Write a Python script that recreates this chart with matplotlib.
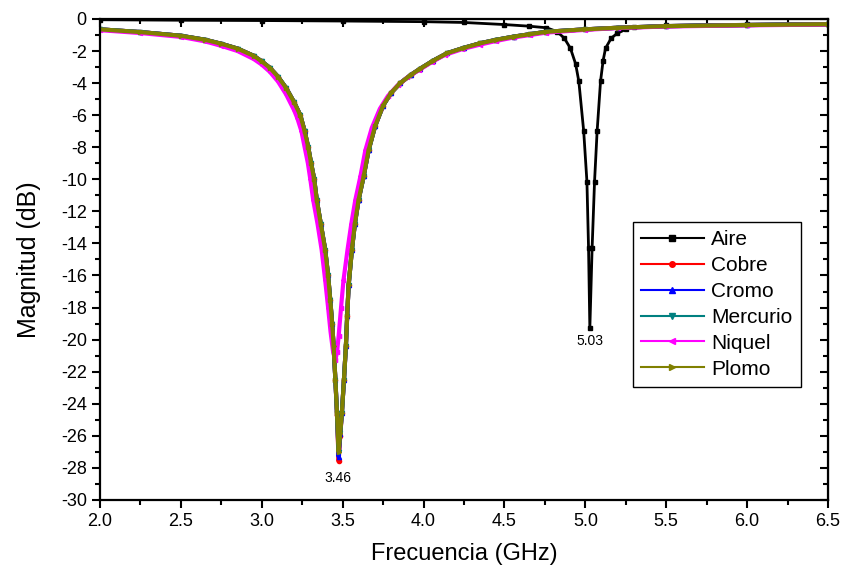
import matplotlib
matplotlib.use("Agg")
import matplotlib.pyplot as plt
from matplotlib.ticker import MultipleLocator

plt.rcParams['font.family'] = ['Liberation Sans', 'DejaVu Sans']
plt.rcParams['axes.unicode_minus'] = False

# Aire (empty cavity)
freq_aire = [2.0, 2.5, 3.0, 3.5, 4.0, 4.25, 4.5, 4.65, 4.76, 4.826, 4.87, 4.908,
             4.94, 4.96, 4.99, 5.01, 5.02, 5.028, 5.042, 5.057, 5.073, 5.094,
             5.11, 5.125, 5.16, 5.197, 5.25, 5.30, 5.5, 6.0, 6.5]
mag_aire = [-0.05, -0.08, -0.1, -0.13, -0.17, -0.22, -0.35, -0.45, -0.55, -0.79,
            -1.2, -1.83, -2.8, -3.9, -7.0, -10.15, -14.3, -19.3, -14.3, -10.15,
            -7.0, -3.9, -2.6, -1.83, -1.2, -0.9, -0.65, -0.5, -0.4, -0.33, -0.3]

# metals share the same frequency points
freq_metal = [2.0, 2.25, 2.5, 2.65, 2.75, 2.85, 2.95, 3.0, 3.05, 3.1, 3.15, 3.2,
              3.238, 3.265, 3.287, 3.305, 3.324, 3.34, 3.365, 3.392, 3.41, 3.423,
              3.435, 3.444, 3.455, 3.465, 3.475, 3.485, 3.495, 3.508, 3.52, 3.528,
              3.537, 3.557, 3.575, 3.598, 3.63, 3.66, 3.70, 3.75, 3.80, 3.856,
              3.92, 3.98, 4.06, 4.145, 4.25, 4.35, 4.45, 4.56, 4.66, 4.76, 5.0,
              5.2, 5.5, 6.0, 6.5]
mag_cobre = [-0.65, -0.82, -1.05, -1.3, -1.55, -1.85, -2.3, -2.65, -3.05, -3.6, -4.3,
             -5.2, -6.0, -7.0, -8.0, -9.0, -10.0, -11.3, -12.8, -14.4, -16.0, -17.5,
             -19.0, -20.4, -22.5, -24.7, -27.6, -26.0, -24.6, -22.5, -20.4, -18.5,
             -16.6, -14.4, -12.8, -11.3, -9.8, -8.2, -6.7, -5.4, -4.6, -4.0, -3.5,
             -3.1, -2.6, -2.14, -1.8, -1.52, -1.3, -1.1, -0.95, -0.8, -0.65, -0.55,
             -0.45, -0.38, -0.33]
mag_cromo = [-0.65, -0.82, -1.05, -1.3, -1.55, -1.85, -2.3, -2.65, -3.05, -3.6, -4.3,
             -5.2, -6.0, -7.0, -8.0, -9.0, -10.0, -11.3, -12.8, -14.4, -16.0, -17.5,
             -19.0, -20.4, -22.5, -24.6, -27.3, -25.9, -24.6, -22.5, -20.4, -18.5,
             -16.6, -14.4, -12.8, -11.3, -9.8, -8.2, -6.7, -5.4, -4.6, -4.0, -3.5,
             -3.1, -2.6, -2.14, -1.8, -1.52, -1.3, -1.1, -0.95, -0.8, -0.65, -0.55,
             -0.45, -0.38, -0.33]
mag_mercurio = [-0.65, -0.82, -1.05, -1.3, -1.55, -1.85, -2.3, -2.65, -3.05, -3.6, -4.3,
                -5.2, -6.0, -7.0, -8.0, -9.0, -10.0, -11.3, -12.8, -14.4, -16.0, -17.5,
                -19.0, -20.4, -22.5, -24.6, -27.0, -25.8, -24.6, -22.5, -20.4, -18.5,
                -16.6, -14.4, -12.8, -11.3, -9.8, -8.2, -6.7, -5.4, -4.6, -4.0, -3.5,
                -3.1, -2.6, -2.14, -1.8, -1.52, -1.3, -1.1, -0.95, -0.8, -0.65, -0.55,
                -0.45, -0.38, -0.33]
mag_plomo = [-0.65, -0.82, -1.05, -1.3, -1.55, -1.85, -2.3, -2.65, -3.05, -3.6, -4.3,
             -5.2, -6.0, -7.0, -8.0, -9.0, -10.0, -11.3, -12.8, -14.4, -16.0, -17.5,
             -19.0, -20.4, -22.5, -24.6, -27.0, -25.8, -24.6, -22.5, -20.4, -18.5,
             -16.6, -14.4, -12.8, -11.3, -9.8, -8.2, -6.7, -5.4, -4.6, -4.0, -3.5,
             -3.1, -2.6, -2.14, -1.8, -1.52, -1.3, -1.1, -0.95, -0.8, -0.65, -0.55,
             -0.45, -0.38, -0.33]

freq_niquel = [2.0, 2.25, 2.5, 2.65, 2.75, 2.85, 2.95, 3.0, 3.05, 3.1, 3.15, 3.2,
               3.22, 3.245, 3.265, 3.285, 3.30, 3.318, 3.345, 3.37, 3.392, 3.41,
               3.425, 3.44, 3.454, 3.465, 3.475, 3.49, 3.505, 3.53, 3.553, 3.578,
               3.61, 3.64, 3.68, 3.73, 3.78, 3.84, 3.90, 3.97, 4.05, 4.13, 4.24,
               4.35, 4.45, 4.56, 4.66, 4.76, 5.0, 5.2, 5.5, 6.0, 6.5]
mag_niquel = [-0.7, -0.88, -1.12, -1.4, -1.68, -2.0, -2.5, -2.85, -3.3, -3.9, -4.7,
              -5.7, -6.2, -7.0, -8.0, -9.0, -10.0, -11.3, -12.8, -14.4, -16.3, -18.0,
              -19.5, -20.7, -21.3, -20.8, -19.8, -18.0, -16.3, -14.4, -12.8, -11.3,
              -9.8, -8.2, -6.8, -5.6, -4.8, -4.15, -3.65, -3.2, -2.7, -2.25, -1.88,
              -1.6, -1.37, -1.15, -1.0, -0.85, -0.68, -0.57, -0.47, -0.40, -0.35]

series = [
    ('Aire', freq_aire, mag_aire, 'black', 's', 2.0),
    ('Cobre', freq_metal, mag_cobre, 'red', 'o', 3.0),
    ('Cromo', freq_metal, mag_cromo, 'blue', '^', 3.0),
    ('Mercurio', freq_metal, mag_mercurio, '#008080', 'v', 3.0),
    ('Niquel', freq_niquel, mag_niquel, 'magenta', '<', 3.0),
    ('Plomo', freq_metal, mag_plomo, '#808000', '>', 3.0),
]

fig = plt.figure(figsize=(8.44, 5.74), dpi=100)
ax = fig.add_axes([0.1185, 0.129, 0.8625, 0.838])

for name, x, y, c, m, lw in series:
    ax.plot(x, y, color=c, lw=lw, marker=m, ms=3, label=name)

ax.text(3.47, -28.6, '3.46', ha='center', va='center', fontsize=10)
ax.text(5.03, -20.1, '5.03', ha='center', va='center', fontsize=10)

ax.set_xlim(2.0, 6.5)
ax.set_ylim(-30, 0)
ax.xaxis.set_major_locator(MultipleLocator(0.5))
ax.xaxis.set_minor_locator(MultipleLocator(0.25))
ax.yaxis.set_major_locator(MultipleLocator(2))
ax.yaxis.set_minor_locator(MultipleLocator(1))
ax.xaxis.set_major_formatter(plt.FormatStrFormatter('%.1f'))
ax.yaxis.set_major_formatter(plt.FormatStrFormatter('%d'))

for s in ax.spines.values():
    s.set_linewidth(1.6)
ax.tick_params(which='both', direction='out', width=1.5, labelsize=13,
               top=False, right=False)
ax.tick_params(which='major', length=6)
ax.tick_params(which='minor', length=3.5)

# inward ticks on the top and right sides
ax2 = ax.secondary_xaxis('top')
ax2.xaxis.set_major_locator(MultipleLocator(0.5))
ax2.xaxis.set_minor_locator(MultipleLocator(0.25))
ax2.tick_params(which='both', direction='in', width=1.5, labeltop=False)
ax2.tick_params(which='major', length=6)
ax2.tick_params(which='minor', length=3.5)
ax3 = ax.secondary_yaxis('right')
ax3.yaxis.set_major_locator(MultipleLocator(2))
ax3.yaxis.set_minor_locator(MultipleLocator(1))
ax3.tick_params(which='both', direction='in', width=1.5, labelright=False)
ax3.tick_params(which='major', length=6)
ax3.tick_params(which='minor', length=3.5)

ax.set_xlabel('Frecuencia (GHz)', fontsize=17, labelpad=9)
ax.set_ylabel('Magnitud (dB)', fontsize=18, labelpad=14)

leg = ax.legend(loc='upper left', bbox_to_anchor=(0.732, 0.578), fontsize=15,
                handlelength=3.0, labelspacing=0.33, borderpad=0.4,
                handletextpad=0.35, fancybox=False, edgecolor='black',
                framealpha=1, borderaxespad=0)
leg.get_frame().set_linewidth(1.0)
for h in leg.legend_handles:
    h.set_linewidth(1.5)
    h.set_markersize(4)

fig.savefig('out.png', dpi=100)
